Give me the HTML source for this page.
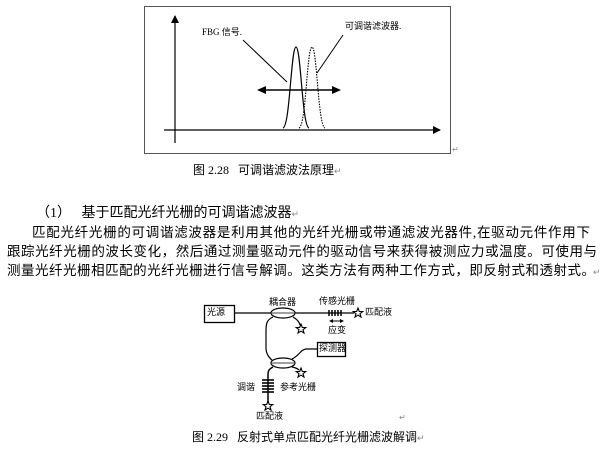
<!DOCTYPE html>
<html><head><meta charset="utf-8"><style>
body{margin:0;width:609px;height:456px;background:#fff;position:relative;overflow:hidden;font-family:"Liberation Serif","Noto Sans CJK SC",sans-serif;color:#000}
.t{position:absolute;white-space:nowrap;line-height:1}
.p{position:absolute;font-size:14px;line-height:1;white-space:nowrap}
.j{text-align:justify;text-align-last:justify;white-space:normal;height:15px;overflow:visible;font-size:13.5px}
svg{position:absolute;left:0;top:0}
</style></head><body>
<svg width="609" height="456" viewBox="0 0 609 456">
<defs><marker id="a" markerWidth="8" markerHeight="8" refX="7" refY="4" orient="auto" markerUnits="userSpaceOnUse"><path d="M0,0 L8,4 L0,8 z" fill="#000"/></marker></defs>
<rect x="144.5" y="6.5" width="306" height="147" fill="none" stroke="#555" stroke-width="1"/>
<line x1="175" y1="143" x2="175" y2="16" stroke="#000" stroke-width="1.2" marker-end="url(#a)"/>
<line x1="164" y1="130" x2="440" y2="130" stroke="#000" stroke-width="1.2" marker-end="url(#a)"/>
<path d="M283,128 C290,126 291,47 296,47 C301,47 302,126 309,128" fill="none" stroke="#000" stroke-width="1.2"/>
<path d="M299,128 C306,126 307,47 312,47 C317,47 318,126 325,128" fill="none" stroke="#000" stroke-width="1.1" stroke-dasharray="1.5,1.2"/>
<line x1="265" y1="90" x2="333" y2="90" stroke="#000" stroke-width="1.4"/>
<path d="M257,90 L266,86 L266,94z M341,90 L332,86 L332,94z" fill="#000"/>
<line x1="243" y1="40" x2="287" y2="82" stroke="#000" stroke-width="1"/>
<line x1="343" y1="35" x2="317" y2="73" stroke="#000" stroke-width="1"/>
<rect x="204.5" y="305.5" width="30" height="17" fill="none" stroke="#000" stroke-width="1.3"/>
<line x1="235" y1="313" x2="354" y2="313" stroke="#000" stroke-width="1.2"/>
<ellipse cx="283" cy="313" rx="12" ry="5" fill="#fff" stroke="#000" stroke-width="1.2"/>
<line x1="272" y1="313" x2="294" y2="313" stroke="#000" stroke-width="0.8"/>
<path d="M273,317 C266,320 266,325 266,332 L266,348 C266,356 272,360 274,362" fill="none" stroke="#000" stroke-width="1.2"/>
<path d="M293,317 C298,320 299,322 300,325" fill="none" stroke="#000" stroke-width="1.2"/>
<g stroke="#000" stroke-width="1.5"><line x1="329" y1="310" x2="329" y2="316"/><line x1="332" y1="310" x2="332" y2="316"/><line x1="335" y1="310" x2="335" y2="316"/><line x1="338" y1="310" x2="338" y2="316"/><line x1="341" y1="310" x2="341" y2="316"/></g>
<line x1="332" y1="321" x2="341" y2="321" stroke="#000" stroke-width="1"/>
<path d="M329,321 L333,319 L333,323z M344,321 L340,319 L340,323z" fill="#000"/>
<rect x="317.5" y="342.5" width="28" height="14" fill="none" stroke="#000" stroke-width="1.3"/>
<path d="M292,359 C300,355 300,350 306,349 L317,349" fill="none" stroke="#000" stroke-width="1.2"/>
<ellipse cx="283" cy="363" rx="12" ry="5" fill="#fff" stroke="#000" stroke-width="1.2"/>
<line x1="272" y1="363" x2="294" y2="363" stroke="#000" stroke-width="0.8"/>
<path d="M292,367 C297,368 298,369 299,370" fill="none" stroke="#000" stroke-width="1.2"/>
<path d="M273,367 C269,369 268,371 268,374 L268,402" fill="none" stroke="#000" stroke-width="1.5"/>
<g stroke="#000" stroke-width="1.6"><line x1="262" y1="380" x2="274" y2="380"/><line x1="262" y1="383" x2="274" y2="383"/><line x1="262" y1="386" x2="274" y2="386"/><line x1="262" y1="389" x2="274" y2="389"/><line x1="262" y1="392" x2="274" y2="392"/></g>
<g fill="#fff" stroke="#000" stroke-width="1.1">
<path transform="translate(358,313)" d="M0,-5 L1.3,-1.6 L4.8,-1.5 L2,0.7 L3,4.1 L0,2.1 L-3,4.1 L-2,0.7 L-4.8,-1.5 L-1.3,-1.6z"/>
<path transform="translate(301,329)" d="M0,-5 L1.3,-1.6 L4.8,-1.5 L2,0.7 L3,4.1 L0,2.1 L-3,4.1 L-2,0.7 L-4.8,-1.5 L-1.3,-1.6z"/>
<path transform="translate(301,373)" d="M0,-5 L1.3,-1.6 L4.8,-1.5 L2,0.7 L3,4.1 L0,2.1 L-3,4.1 L-2,0.7 L-4.8,-1.5 L-1.3,-1.6z"/>
<path transform="translate(268,406)" d="M0,-5 L1.3,-1.6 L4.8,-1.5 L2,0.7 L3,4.1 L0,2.1 L-3,4.1 L-2,0.7 L-4.8,-1.5 L-1.3,-1.6z"/>
</g>
</svg>
<div class="t" style="left:202px;top:28px;font-size:9px">FBG 信号.</div>
<div class="t" style="left:345px;top:22px;font-size:9px">可调谐滤波器.</div>
<div class="t" style="left:452px;top:146px;font-size:8px;color:#888">↵</div>
<div class="t" style="left:193px;top:164px;font-size:12px">图 2.28 &nbsp; 可调谐滤波法原理<span style="color:#888;font-size:9px">↵</span></div>
<div class="p" style="left:36px;top:207px">（1） &nbsp; 基于匹配光纤光栅的可调谐滤波器<span style="color:#888;font-size:9px">↵</span></div>
<div class="p j" style="left:32px;top:226px;width:558px">匹配光纤光栅的可调谐滤波器是利用其他的光纤光栅或带通滤波光器件,在驱动元件作用下</div>
<div class="p j" style="left:7px;top:245px;width:590px">跟踪光纤光栅的波长变化，然后通过测量驱动元件的驱动信号来获得被测应力或温度。可使用与</div>
<div class="p j" style="left:7px;top:264px;width:588px">测量光纤光栅相匹配的光纤光栅进行信号解调。这类方法有两种工作方式，即反射式和透射式。</div>
<div class="t" style="left:593px;top:268px;font-size:9px;color:#888">↵</div>
<div class="t" style="left:207px;top:308px;font-size:9px">光源</div>
<div class="t" style="left:269px;top:298px;font-size:9px">耦合器</div>
<div class="t" style="left:319px;top:297px;font-size:9px">传感光栅</div>
<div class="t" style="left:328px;top:326px;font-size:9px">应变</div>
<div class="t" style="left:365px;top:308px;font-size:9px">匹配液</div>
<div class="t" style="left:319px;top:344px;font-size:9px">探测器</div>
<div class="t" style="left:237px;top:383px;font-size:9px">调谐</div>
<div class="t" style="left:280px;top:383px;font-size:9px">参考光栅</div>
<div class="t" style="left:256px;top:412px;font-size:9px">匹配液</div>
<div class="t" style="left:399px;top:414px;font-size:8px;color:#888">↵</div>
<div class="t" style="left:192px;top:431px;font-size:12px">图 2.29 &nbsp; 反射式单点匹配光纤光栅滤波解调<span style="color:#888;font-size:9px">↵</span></div>
</body></html>
